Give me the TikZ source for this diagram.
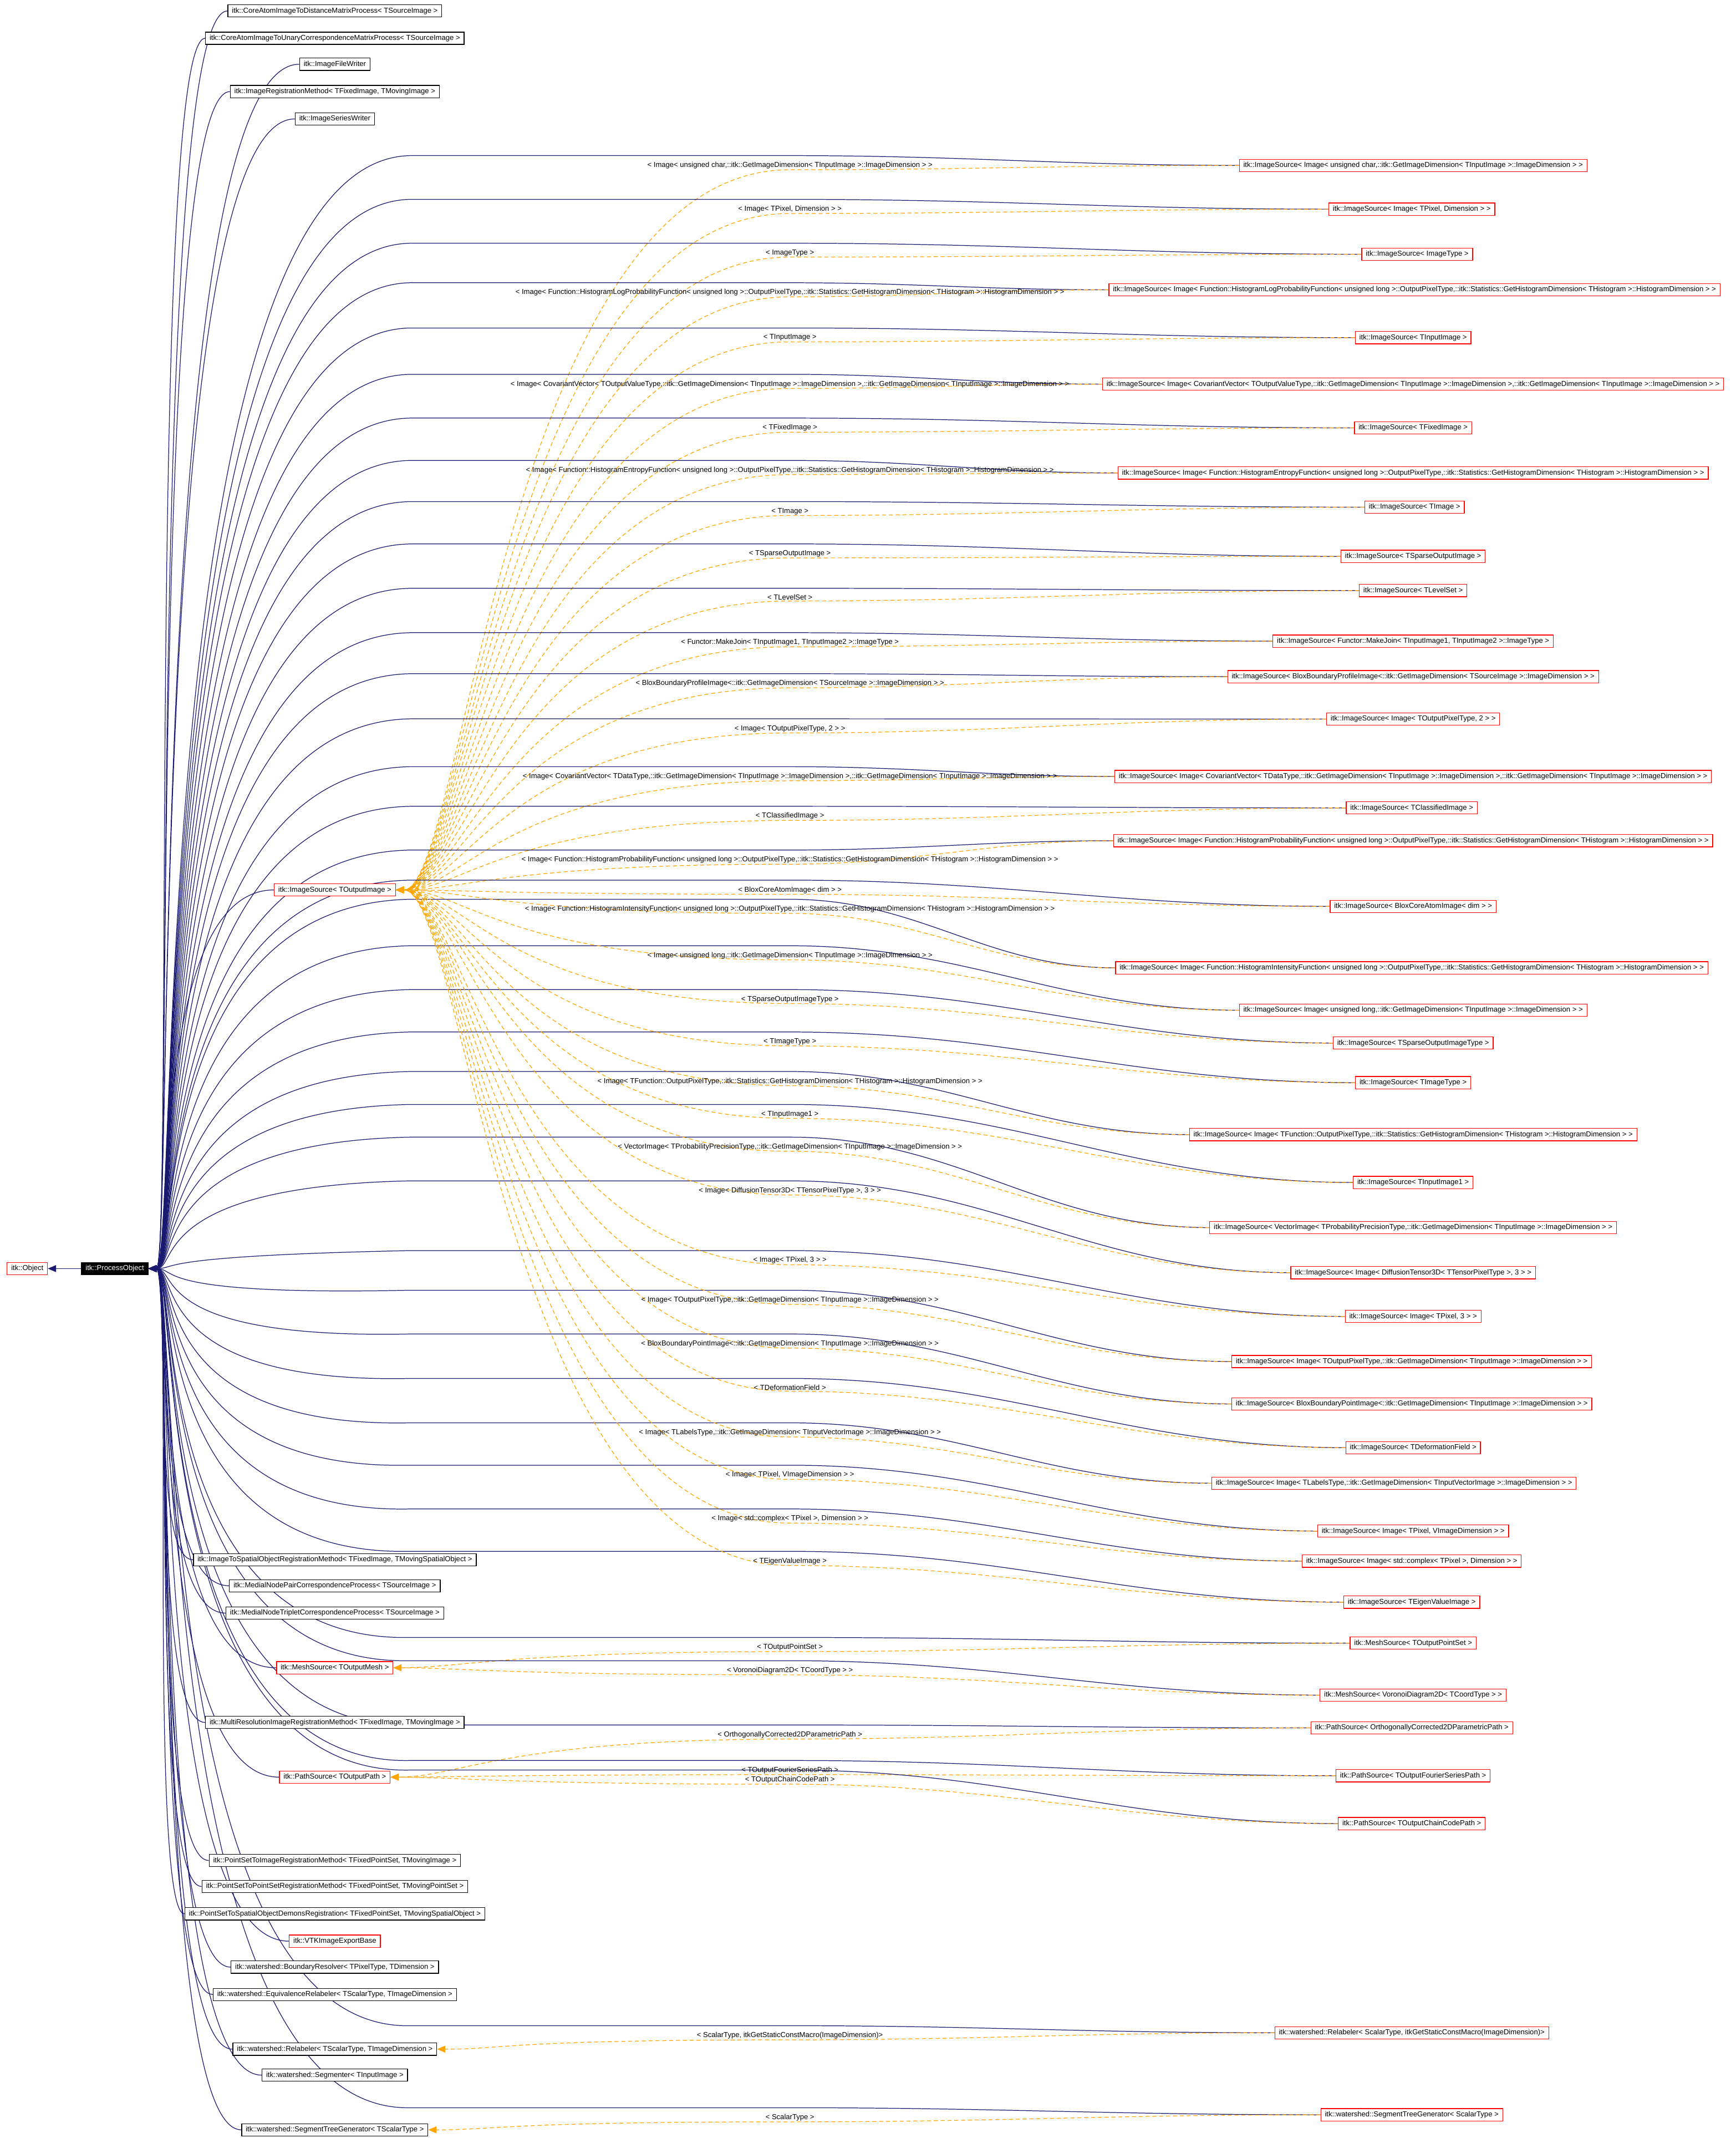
\documentclass[tikz,border=0pt]{standalone}
\usepackage{fontspec}
\setmainfont{Liberation Sans}
\usetikzlibrary{arrows.meta,backgrounds}
\definecolor{eblue}{HTML}{191970}
\definecolor{eorange}{HTML}{FFA500}
\tikzset{
 box/.style={draw=black,line width=0.5pt,fill=white,inner xsep=3pt,inner ysep=0pt,minimum height=9pt,font=\fontsize{5.3}{6}\selectfont},
 rbox/.style={box,draw=red},
 cur/.style={box,fill=black,text=white,draw=black},
 lbl/.style={inner sep=0.5pt,font=\fontsize{5.3}{6}\selectfont},
 bl/.style={draw=eblue,line width=0.5pt,-{Triangle[width=5pt,length=6pt]}},
 og/.style={draw=eorange,line width=0.5pt,dash pattern=on 3pt off 2pt,-{Triangle[width=5pt,length=6pt]}}
}
\newcommand\lsrc[4]{% name, y, text, style
 \node[#4] (#1) at (245,#2) {#3};
 \begin{pgfonlayer}{background}
 \draw[bl] (#1.west) .. controls (po.east |- #1.west) and ([xshift=18pt]po.east) .. (po.east);
 \end{pgfonlayer}}
\newcommand\rsrc[7]{% name, x, y, text, template, label y, label
 \node[rbox] (#1) at (#2,#3) {#4};
 \node[lbl] (#1l) at (578,#6) {#7};
 \begin{pgfonlayer}{background}
 \draw[bl] (#1.west) to[out=180,in=0] ([yshift=4pt]#1l.north) -- ([yshift=4pt]#1l.north -| ib) .. controls (po.east |- #1l.north) and ([xshift=22pt]po.east) .. (po.east);
 \draw[og] (#1.west) to[out=180,in=0] (#1l.south) .. controls (#1l.south -| ob) and ([xshift=50pt]#5.east) .. (#5.east);
 \end{pgfonlayer}}
\begin{document}
\begin{tikzpicture}[x=1pt,y=-1pt]
\useasboundingbox (0,0) rectangle (1270,1564);
\coordinate (ob) at (370,0);
\coordinate (ib) at (300,0);
\node[rbox] (obj) at (20,928) {itk::Object};
\node[cur] (po) at (84,928) {itk::ProcessObject};
\draw[bl] (po.west) -- (obj.east);
\lsrc{a1}{8}{itk::CoreAtomImageToDistanceMatrixProcess< TSourceImage >}{box}
\lsrc{a2}{28}{itk::CoreAtomImageToUnaryCorrespondenceMatrixProcess< TSourceImage >}{box}
\lsrc{a3}{47}{itk::ImageFileWriter}{box}
\lsrc{a4}{67}{itk::ImageRegistrationMethod< TFixedImage, TMovingImage >}{box}
\lsrc{a5}{87}{itk::ImageSeriesWriter}{box}
\lsrc{isrc}{651}{itk::ImageSource< TOutputImage >}{rbox}
\lsrc{a7}{1141}{itk::ImageToSpatialObjectRegistrationMethod< TFixedImage, TMovingSpatialObject >}{box}
\lsrc{a8}{1160}{itk::MedialNodePairCorrespondenceProcess< TSourceImage >}{box}
\lsrc{a9}{1180}{itk::MedialNodeTripletCorrespondenceProcess< TSourceImage >}{box}
\lsrc{msrc}{1220}{itk::MeshSource< TOutputMesh >}{rbox}
\lsrc{a11}{1260}{itk::MultiResolutionImageRegistrationMethod< TFixedImage, TMovingImage >}{box}
\lsrc{psrc}{1300}{itk::PathSource< TOutputPath >}{rbox}
\lsrc{a13}{1361}{itk::PointSetToImageRegistrationMethod< TFixedPointSet, TMovingImage >}{box}
\lsrc{a14}{1380}{itk::PointSetToPointSetRegistrationMethod< TFixedPointSet, TMovingPointSet >}{box}
\lsrc{a15}{1400}{itk::PointSetToSpatialObjectDemonsRegistration< TFixedPointSet, TMovingSpatialObject >}{box}
\lsrc{a16}{1420}{itk::VTKImageExportBase}{rbox}
\lsrc{a17}{1439}{itk::watershed::BoundaryResolver< TPixelType, TDimension >}{box}
\lsrc{a18}{1459}{itk::watershed::EquivalenceRelabeler< TScalarType, TImageDimension >}{box}
\lsrc{wrel}{1499}{itk::watershed::Relabeler< TScalarType, TImageDimension >}{box}
\lsrc{a20}{1518}{itk::watershed::Segmenter< TInputImage >}{box}
\lsrc{wstg}{1558}{itk::watershed::SegmentTreeGenerator< TScalarType >}{box}
\rsrc{r1}{1034}{121}{itk::ImageSource< Image< unsigned char,::itk::GetImageDimension< TInputImage >::ImageDimension > >}{isrc}{121}{< Image< unsigned char,::itk::GetImageDimension< TInputImage >::ImageDimension > >}
\rsrc{r2}{1033}{153}{itk::ImageSource< Image< TPixel, Dimension > >}{isrc}{153}{< Image< TPixel, Dimension > >}
\rsrc{r3}{1037}{186}{itk::ImageSource< ImageType >}{isrc}{185}{< ImageType >}
\rsrc{r4}{1035}{212}{itk::ImageSource< Image< Function::HistogramLogProbabilityFunction< unsigned long >::OutputPixelType,::itk::Statistics::GetHistogramDimension< THistogram >::HistogramDimension > >}{isrc}{214}{< Image< Function::HistogramLogProbabilityFunction< unsigned long >::OutputPixelType,::itk::Statistics::GetHistogramDimension< THistogram >::HistogramDimension > >}
\rsrc{r5}{1034}{247}{itk::ImageSource< TInputImage >}{isrc}{247}{< TInputImage >}
\rsrc{r6}{1034}{281}{itk::ImageSource< Image< CovariantVector< TOutputValueType,::itk::GetImageDimension< TInputImage >::ImageDimension >,::itk::GetImageDimension< TInputImage >::ImageDimension > >}{isrc}{281}{< Image< CovariantVector< TOutputValueType,::itk::GetImageDimension< TInputImage >::ImageDimension >,::itk::GetImageDimension< TInputImage >::ImageDimension > >}
\rsrc{r7}{1034}{313}{itk::ImageSource< TFixedImage >}{isrc}{313}{< TFixedImage >}
\rsrc{r8}{1034}{346}{itk::ImageSource< Image< Function::HistogramEntropyFunction< unsigned long >::OutputPixelType,::itk::Statistics::GetHistogramDimension< THistogram >::HistogramDimension > >}{isrc}{344}{< Image< Function::HistogramEntropyFunction< unsigned long >::OutputPixelType,::itk::Statistics::GetHistogramDimension< THistogram >::HistogramDimension > >}
\rsrc{r9}{1035}{371}{itk::ImageSource< TImage >}{isrc}{374}{< TImage >}
\rsrc{r10}{1034}{407}{itk::ImageSource< TSparseOutputImage >}{isrc}{405}{< TSparseOutputImage >}
\rsrc{r11}{1034}{432}{itk::ImageSource< TLevelSet >}{isrc}{437}{< TLevelSet >}
\rsrc{r12}{1034}{469}{itk::ImageSource< Functor::MakeJoin< TInputImage1, TInputImage2 >::ImageType >}{isrc}{470}{< Functor::MakeJoin< TInputImage1, TInputImage2 >::ImageType >}
\rsrc{r13}{1034}{495}{itk::ImageSource< BloxBoundaryProfileImage<::itk::GetImageDimension< TSourceImage >::ImageDimension > >}{isrc}{500}{< BloxBoundaryProfileImage<::itk::GetImageDimension< TSourceImage >::ImageDimension > >}
\rsrc{r14}{1034}{526}{itk::ImageSource< Image< TOutputPixelType, 2 > >}{isrc}{533}{< Image< TOutputPixelType, 2 > >}
\rsrc{r15}{1034}{568}{itk::ImageSource< Image< CovariantVector< TDataType,::itk::GetImageDimension< TInputImage >::ImageDimension >,::itk::GetImageDimension< TInputImage >::ImageDimension > >}{isrc}{568}{< Image< CovariantVector< TDataType,::itk::GetImageDimension< TInputImage >::ImageDimension >,::itk::GetImageDimension< TInputImage >::ImageDimension > >}
\rsrc{r16}{1033}{591}{itk::ImageSource< TClassifiedImage >}{isrc}{597}{< TClassifiedImage >}
\rsrc{r17}{1034}{615}{itk::ImageSource< Image< Function::HistogramProbabilityFunction< unsigned long >::OutputPixelType,::itk::Statistics::GetHistogramDimension< THistogram >::HistogramDimension > >}{isrc}{629}{< Image< Function::HistogramProbabilityFunction< unsigned long >::OutputPixelType,::itk::Statistics::GetHistogramDimension< THistogram >::HistogramDimension > >}
\rsrc{r18}{1034}{663}{itk::ImageSource< BloxCoreAtomImage< dim > >}{isrc}{651}{< BloxCoreAtomImage< dim > >}
\rsrc{r19}{1033}{708}{itk::ImageSource< Image< Function::HistogramIntensityFunction< unsigned long >::OutputPixelType,::itk::Statistics::GetHistogramDimension< THistogram >::HistogramDimension > >}{isrc}{665}{< Image< Function::HistogramIntensityFunction< unsigned long >::OutputPixelType,::itk::Statistics::GetHistogramDimension< THistogram >::HistogramDimension > >}
\rsrc{r20}{1034}{739}{itk::ImageSource< Image< unsigned long,::itk::GetImageDimension< TInputImage >::ImageDimension > >}{isrc}{699}{< Image< unsigned long,::itk::GetImageDimension< TInputImage >::ImageDimension > >}
\rsrc{r21}{1034}{763}{itk::ImageSource< TSparseOutputImageType >}{isrc}{731}{< TSparseOutputImageType >}
\rsrc{r22}{1034}{792}{itk::ImageSource< TImageType >}{isrc}{762}{< TImageType >}
\rsrc{r23}{1034}{830}{itk::ImageSource< Image< TFunction::OutputPixelType,::itk::Statistics::GetHistogramDimension< THistogram >::HistogramDimension > >}{isrc}{791}{< Image< TFunction::OutputPixelType,::itk::Statistics::GetHistogramDimension< THistogram >::HistogramDimension > >}
\rsrc{r24}{1034}{865}{itk::ImageSource< TInputImage1 >}{isrc}{815}{< TInputImage1 >}
\rsrc{r25}{1034}{898}{itk::ImageSource< VectorImage< TProbabilityPrecisionType,::itk::GetImageDimension< TInputImage >::ImageDimension > >}{isrc}{839}{< VectorImage< TProbabilityPrecisionType,::itk::GetImageDimension< TInputImage >::ImageDimension > >}
\rsrc{r26}{1034}{931}{itk::ImageSource< Image< DiffusionTensor3D< TTensorPixelType >, 3 > >}{isrc}{871}{< Image< DiffusionTensor3D< TTensorPixelType >, 3 > >}
\rsrc{r27}{1034}{963}{itk::ImageSource< Image< TPixel, 3 > >}{isrc}{922}{< Image< TPixel, 3 > >}
\rsrc{r28}{1033}{996}{itk::ImageSource< Image< TOutputPixelType,::itk::GetImageDimension< TInputImage >::ImageDimension > >}{isrc}{951}{< Image< TOutputPixelType,::itk::GetImageDimension< TInputImage >::ImageDimension > >}
\rsrc{r29}{1033}{1027}{itk::ImageSource< BloxBoundaryPointImage<::itk::GetImageDimension< TInputImage >::ImageDimension > >}{isrc}{983}{< BloxBoundaryPointImage<::itk::GetImageDimension< TInputImage >::ImageDimension > >}
\rsrc{r30}{1034}{1059}{itk::ImageSource< TDeformationField >}{isrc}{1015}{< TDeformationField >}
\rsrc{r31}{1020}{1085}{itk::ImageSource< Image< TLabelsType,::itk::GetImageDimension< TInputVectorImage >::ImageDimension > >}{isrc}{1048}{< Image< TLabelsType,::itk::GetImageDimension< TInputVectorImage >::ImageDimension > >}
\rsrc{r32}{1034}{1120}{itk::ImageSource< Image< TPixel, VImageDimension > >}{isrc}{1079}{< Image< TPixel, VImageDimension > >}
\rsrc{r33}{1033}{1142}{itk::ImageSource< Image< std::complex< TPixel >, Dimension > >}{isrc}{1111}{< Image< std::complex< TPixel >, Dimension > >}
\rsrc{r34}{1033}{1172}{itk::ImageSource< TEigenValueImage >}{isrc}{1142}{< TEigenValueImage >}
\rsrc{m1}{1034}{1202}{itk::MeshSource< TOutputPointSet >}{msrc}{1205}{< TOutputPointSet >}
\rsrc{m2}{1034}{1240}{itk::MeshSource< VoronoiDiagram2D< TCoordType > >}{msrc}{1222}{< VoronoiDiagram2D< TCoordType > >}
\rsrc{p1}{1033}{1264}{itk::PathSource< OrthogonallyCorrected2DParametricPath >}{psrc}{1269}{< OrthogonallyCorrected2DParametricPath >}
\rsrc{p2}{1034}{1299}{itk::PathSource< TOutputFourierSeriesPath >}{psrc}{1295}{< TOutputFourierSeriesPath >}
\rsrc{p3}{1033}{1334}{itk::PathSource< TOutputChainCodePath >}{psrc}{1302}{< TOutputChainCodePath >}
\rsrc{w1}{1033}{1487}{itk::watershed::Relabeler< ScalarType, itkGetStaticConstMacro(ImageDimension)>}{wrel}{1489}{< ScalarType, itkGetStaticConstMacro(ImageDimension)>}
\rsrc{w2}{1033}{1547}{itk::watershed::SegmentTreeGenerator< ScalarType >}{wstg}{1549}{< ScalarType >}
\end{tikzpicture}
\end{document}
